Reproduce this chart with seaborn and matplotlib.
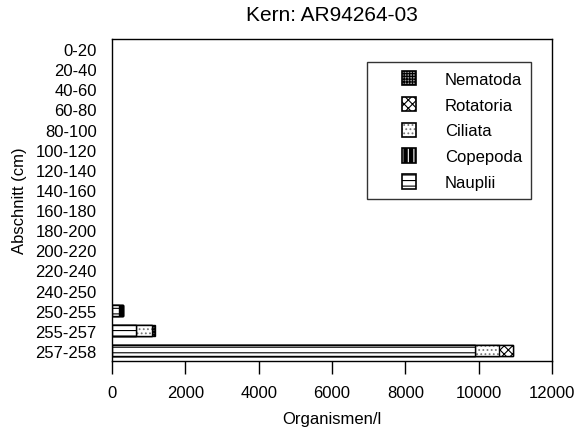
import matplotlib
matplotlib.use("Agg")
import matplotlib.pyplot as plt
import seaborn as sns
import pandas as pd
import numpy as np
from matplotlib.patches import Patch, Rectangle
from matplotlib.legend_handler import HandlerBase

sections = ["0-20", "20-40", "40-60", "60-80", "80-100", "100-120", "120-140",
            "140-160", "160-180", "180-200", "200-220", "220-240", "240-250",
            "250-255", "255-257", "257-258"]
nauplii   = [0, 0, 0, 0, 0, 0, 0, 0, 0, 0, 0, 0, 0, 180, 660, 9900]
copepoda  = [0, 0, 0, 0, 0, 0, 0, 0, 0, 0, 0, 0, 0, 110, 0, 0]
ciliata   = [0, 0, 0, 0, 0, 0, 0, 0, 0, 0, 0, 0, 0, 0, 430, 650]
rotatoria = [0, 0, 0, 0, 0, 0, 0, 0, 0, 0, 0, 0, 0, 0, 0, 385]
nematoda  = [0, 0, 0, 0, 0, 0, 0, 0, 0, 0, 0, 0, 0, 0, 80, 0]
x_ticks = [0, 2000, 4000, 6000, 8000, 10000, 12000]

sns.set_style("ticks", {"text.color": "black", "axes.labelcolor": "black",
                        "xtick.color": "black", "ytick.color": "black",
                        "axes.edgecolor": "black"})
plt.rcParams["font.family"] = ["Liberation Sans", "DejaVu Sans"]
plt.rcParams["hatch.linewidth"] = 0.8

# stacking order, left to right: (name, values, face, hatch colour, hatch)
groups = [
    ("Nauplii", nauplii, "white", "black", "---"),
    ("Copepoda", copepoda, "black", "white", "|||"),
    ("Ciliata", ciliata, "white", "#777777", "...."),
    ("Rotatoria", rotatoria, "white", "black", "xxxx"),
    ("Nematoda", nematoda, "#999999", "black", "++++++"),
]

df = pd.DataFrame({"Abschnitt": sections})
running = np.zeros(len(sections))
for name, vals, *_ in groups:
    running = running + np.array(vals, dtype=float)
    df[name] = running

fig = plt.figure(figsize=(5.83, 4.35), dpi=100)
ax = fig.add_axes([0.192, 0.168, 0.755, 0.740])

# draw cumulative totals from the outermost segment inward
for name, _, face, hcol, hatch in reversed(groups):
    sns.barplot(data=df, x=name, y="Abschnitt", order=sections, orient="h",
                color=face, saturation=1, hatch=hatch, edgecolor=hcol,
                linewidth=0, width=0.55, ax=ax)
    # black outline on top of each hatched segment
    sns.barplot(data=df, x=name, y="Abschnitt", order=sections, orient="h",
                fill=False, color="black", edgecolor="black",
                linewidth=1.0, width=0.55, ax=ax)

# empty sections carry no bar
for p in ax.patches:
    if p.get_width() == 0:
        p.set_visible(False)


class SquareHandler(HandlerBase):
    def create_artists(self, legend, orig_handle, xdescent, ydescent,
                       width, height, fontsize, trans):
        side = min(width, height)
        x0 = width - side - xdescent
        y0 = (height - side) / 2 - ydescent
        fill = Rectangle((x0, y0), side, side, facecolor=orig_handle.get_facecolor(),
                         edgecolor=orig_handle.get_edgecolor(), hatch=orig_handle.get_hatch(),
                         linewidth=0, transform=trans)
        frame = Rectangle((x0, y0), side, side, facecolor="none",
                          edgecolor="black", linewidth=1.2, transform=trans)
        return [fill, frame]


ax.set_xlim(0, 12000)
ax.set_xticks(x_ticks)
ax.set_xticklabels([str(t) for t in x_ticks], fontsize=12)
ax.tick_params(axis="y", length=0, labelsize=12, pad=11)
ax.tick_params(axis="x", length=9, width=1.0, direction="out", pad=8)
for s in ax.spines.values():
    s.set_visible(True)
    s.set_linewidth(1.0)

ax.set_title("Kern: AR94264-03", fontsize=15, pad=14)
ax.set_xlabel("Organismen/l", fontsize=12, labelpad=8)
ax.set_ylabel("Abschnitt (cm)", fontsize=12, labelpad=6)

handles = []
for name, _, face, hcol, hatch in reversed(groups):
    handles.append(Patch(facecolor=face, edgecolor=hcol, hatch=hatch, label=name))
leg = ax.legend(handles=handles, loc="upper left", bbox_to_anchor=(0.58, 0.93),
                handler_map={Patch: SquareHandler()},
                fontsize=12, frameon=True, fancybox=False, edgecolor="black",
                handlelength=2.4, handleheight=0.95, handletextpad=1.7,
                labelspacing=0.6, borderpad=0.55, borderaxespad=0)
leg.get_frame().set_linewidth(1.0)

fig.savefig("out.png", dpi=100)
